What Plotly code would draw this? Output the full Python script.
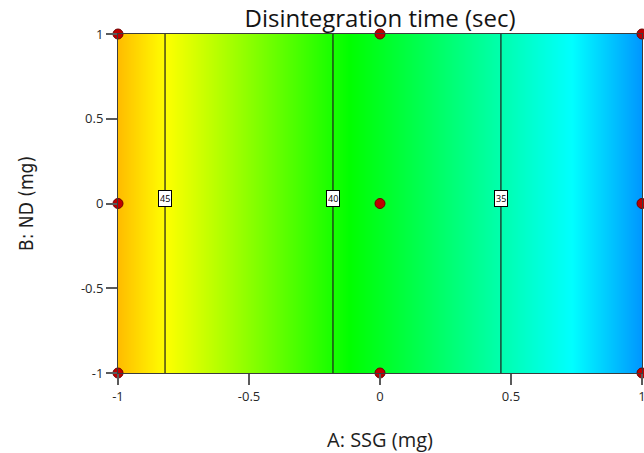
import numpy as np
import plotly.graph_objects as go

# Data
a_levels = [-1, 0, 1]            # A: SSG (coded)
b_levels = [-1, 0, 1]            # B: ND (coded)
response_by_a = [46.4, 38.6, 30.8]  # disintegration time (sec) at A levels (independent of B)
design_a = [-1, -1, -1, 0, 0, 0, 1, 1, 1]
design_b = [-1, 0, 1, -1, 0, 1, -1, 0, 1]
contour_levels = [35, 40, 45]
tick_vals = [-1, -0.5, 0, 0.5, 1]
tick_text = ["-1", "-0.5", "0", "0.5", "1"]

z = [list(response_by_a) for _ in b_levels]
zmin, zmax = min(response_by_a), max(response_by_a)

def n(v):
    return (v - zmin) / (zmax - zmin)

colorscale = [
    [0.0, "rgb(0,150,255)"],
    [n(32.9), "rgb(0,255,255)"],
    [n(39.5), "rgb(0,255,0)"],
    [n(45.0), "rgb(255,255,0)"],
    [1.0, "rgb(255,188,0)"],
]

fig = go.Figure()
fig.add_trace(go.Heatmap(
    x=a_levels, y=b_levels, z=z, zsmooth="best",
    colorscale=colorscale, zmin=zmin, zmax=zmax, showscale=False,
    hoverinfo="skip"))
fig.add_trace(go.Contour(
    x=a_levels, y=b_levels, z=z,
    contours=dict(start=contour_levels[0], end=contour_levels[-1], size=5,
                  coloring="none", showlabels=False),
    line=dict(color="rgb(30,30,30)", width=1.2),
    showscale=False, hoverinfo="skip"))
fig.add_trace(go.Scatter(
    x=design_a, y=design_b, mode="markers",
    marker=dict(color="rgb(190,0,0)", size=10,
                line=dict(color="rgb(110,0,0)", width=1)),
    cliponaxis=False, hoverinfo="skip"))

# contour labels placed where each level crosses (linear along A)
rev_z = response_by_a[::-1]
rev_a = a_levels[::-1]
for lv in contour_levels:
    xa = float(np.interp(lv, rev_z, rev_a))
    fig.add_annotation(x=xa, y=0.03, text=str(lv), showarrow=False,
                       font=dict(family="Open Sans", size=9, color="black"),
                       bgcolor="white", bordercolor="black", borderwidth=1,
                       borderpad=1)

axis_common = dict(
    range=[-1, 1], tickvals=tick_vals, ticktext=tick_text,
    ticks="outside", ticklen=11, tickcolor="rgb(90,90,90)", tickwidth=1.5,
    showline=True, linecolor="rgb(60,60,60)", linewidth=1, mirror=True,
    showgrid=False, zeroline=False, ticklabeloverflow="allow", automargin=False,
    tickfont=dict(family="Open Sans", size=13, color="rgb(40,40,40)"),
)

fig.update_layout(
    width=644, height=453,
    margin=dict(l=118, r=2, t=34, b=80),
    paper_bgcolor="white", plot_bgcolor="white",
    showlegend=False,
    title=dict(text="Disintegration time (sec)", x=380/644, xanchor="center",
               y=1 - 19/453, yanchor="middle", automargin=False,
               font=dict(family="Open Sans", size=24, color="rgb(20,20,20)")),
    xaxis=dict(**axis_common,
               title=dict(text="A: SSG (mg)", standoff=30,
                          font=dict(family="Open Sans", size=20, color="rgb(30,30,30)"))),
    yaxis=dict(**axis_common,
               title=dict(text="B: ND (mg)", standoff=42,
                          font=dict(family="DejaVu Sans Condensed, Liberation Sans Narrow, Roboto",
                                    size=19, color="rgb(30,30,30)"))),
)

fig.write_html("out.html")
